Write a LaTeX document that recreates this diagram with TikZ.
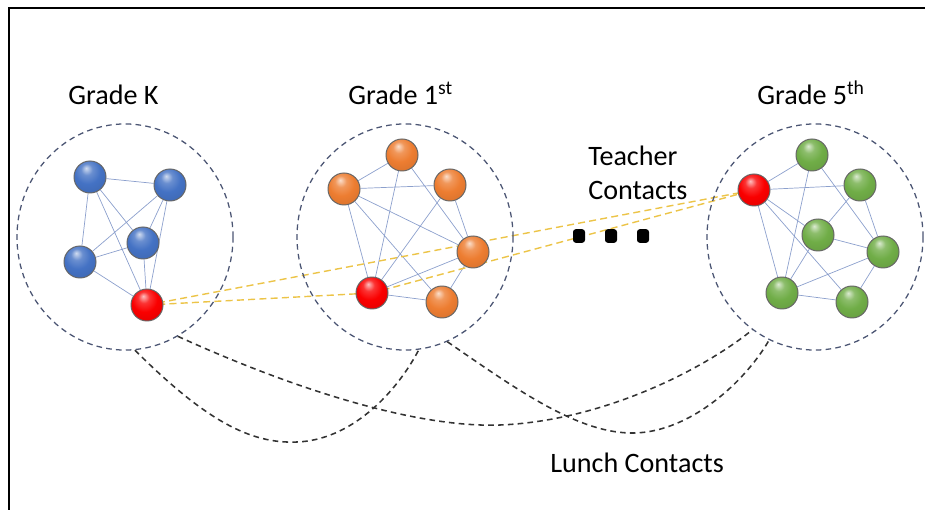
\documentclass[tikz,border=0pt]{standalone}
\usepackage{fontspec}
\setmainfont{Carlito}
\usetikzlibrary{shapes.geometric,backgrounds}

\definecolor{kidblue}{RGB}{68,114,196}
\definecolor{kidorange}{RGB}{237,125,49}
\definecolor{kidgreen}{RGB}{112,173,71}
\definecolor{kidred}{RGB}{250,0,0}
\definecolor{ringgray}{RGB}{75,85,115}
\definecolor{linkblue}{RGB}{140,160,205}
\definecolor{teachgold}{RGB}{236,196,72}

% brighter ball than tikz's own
\makeatletter
\pgfdeclareradialshading[tikz@ball]{kidball}{\pgfqpoint{-6bp}{14bp}}{%
  color(0bp)=(tikz@ball!25!white); color(9bp)=(tikz@ball!80!white);
  color(20bp)=(tikz@ball); color(40bp)=(tikz@ball!88!black);
  color(58bp)=(tikz@ball!60!black)}
\makeatother

\tikzset{
  kid/.style={circle, draw=black!60, line width=0.7pt, minimum size=0.8cm, inner sep=0pt},
  bluekid/.style={kid, ball color=kidblue, shading=kidball},
  orangekid/.style={kid, ball color=kidorange, shading=kidball},
  greenkid/.style={kid, ball color=kidgreen, shading=kidball},
  redkid/.style={kid, ball color=kidred, shading=kidball},
  ring/.style={ellipse, draw=ringgray, line width=0.9pt, dash pattern=on 4pt off 3pt,
    minimum width=5.4cm, minimum height=5.65cm, inner sep=0pt},
  link/.style={draw=linkblue, line width=0.5pt},
  teacher/.style={draw=teachgold, line width=1pt, dash pattern=on 5pt off 3pt},
  lunch/.style={draw=black!80, line width=1.1pt, dash pattern=on 4pt off 3pt},
  gradetext/.style={font=\fontsize{20}{24}\selectfont, inner sep=0pt},
  dot/.style={rectangle, rounded corners=2pt, fill=black, minimum width=0.3cm, minimum height=0.34cm, inner sep=0pt}
}

\begin{document}
\begin{tikzpicture}[x=0.025cm,y=-0.025cm]
    \useasboundingbox (0,0) rectangle (925,510);

    % Border
    \draw[line width=1.2pt] (9,510) -- (9,8) -- (925,8);

    % Grade K
    \node[ring] (ringk) at (125,237) {};
    \node[bluekid] (k1) at (90,177) {};
    \node[bluekid] (k2) at (170,185) {};
    \node[bluekid] (k3) at (143,243) {};
    \node[bluekid] (k4) at (80,262) {};
    \node[redkid] (kr) at (147,305) {};

    % Grade 1st
    \node[ring] (ring1) at (405,237) {};
    \node[orangekid] (f1a) at (402,155) {};
    \node[orangekid] (f1b) at (344,189) {};
    \node[orangekid] (f1c) at (450,185) {};
    \node[orangekid] (f1d) at (473,252) {};
    \node[orangekid] (f1e) at (442,302) {};
    \node[redkid] (f1r) at (372,293) {};

    % Grade 5th
    \node[ring] (ring5) at (815,237) {};
    \node[greenkid] (g5a) at (812,155) {};
    \node[redkid] (g5r) at (754,190) {};
    \node[greenkid] (g5c) at (860,185) {};
    \node[greenkid] (g5m) at (818,235) {};
    \node[greenkid] (g5d) at (883,252) {};
    \node[greenkid] (g5f) at (782,293) {};
    \node[greenkid] (g5e) at (852,302) {};

    \begin{scope}[on background layer]
    % Class contacts
    \draw[link] (k1) -- (k2) (k1) -- (k3) (k1) -- (k4) (k1) -- (kr)
                (k2) -- (k3) (k2) -- (k4) (k2) -- (kr)
                (k3) -- (k4) (k3) -- (kr) (k4) -- (kr);
    \draw[link] (f1a) -- (f1b) (f1b) -- (f1c) (f1a) -- (f1r) (f1a) -- (f1d)
                (f1b) -- (f1d) (f1b) -- (f1e) (f1b) -- (f1r) (f1c) -- (f1r)
                (f1c) -- (f1d) (f1d) -- (f1r) (f1d) -- (f1e) (f1r) -- (f1e);
    \draw[link] (g5a) -- (g5r) (g5r) -- (g5c) (g5a) -- (g5f) (g5a) -- (g5d)
                (g5r) -- (g5m) (g5m) -- (g5d) (g5r) -- (g5f) (g5r) -- (g5e)
                (g5c) -- (g5m) (g5m) -- (g5f) (g5c) -- (g5d) (g5f) -- (g5d)
                (g5d) -- (g5e) (g5f) -- (g5e);

    % Teacher contacts
    \draw[teacher] (kr.center) -- (g5r.center);
    \draw[teacher] (kr.center) -- (f1r.center) -- (g5r.center);
    \end{scope}

    % Lunch contacts
    \draw[lunch] (ringk.-85) .. controls (205,420) and (250,444) .. (297,442)
                 .. controls (350,440) and (395,395) .. (ring1.-83);
    \draw[lunch] (ringk.-62) .. controls (300,392) and (420,428) .. (500,425)
                 .. controls (600,421) and (700,372) .. (ring5.-124);
    \draw[lunch] (ring1.-68) .. controls (520,392) and (580,434) .. (634,433)
                 .. controls (690,432) and (745,382) .. (ring5.-114);

    % Dots
    \node[dot] (dt1) at (579,236) {};
    \node[dot] (dt2) at (611,236) {};
    \node[dot] (dt3) at (643,236) {};

    % Text
    \node[gradetext, anchor=base west] (tk) at (68,105) {Grade K};
    \node[gradetext, anchor=base west] (t1) at (348,105) {Grade 1\textsuperscript{st}};
    \node[gradetext, anchor=base west] (t5) at (757,105) {Grade 5\textsuperscript{th}};
    \node[gradetext, anchor=north west, align=left] (tt) at (588,146) {Teacher\\Contacts};
    \node[gradetext, anchor=base west] (tl) at (550,472) {Lunch Contacts};

\end{tikzpicture}
\end{document}
